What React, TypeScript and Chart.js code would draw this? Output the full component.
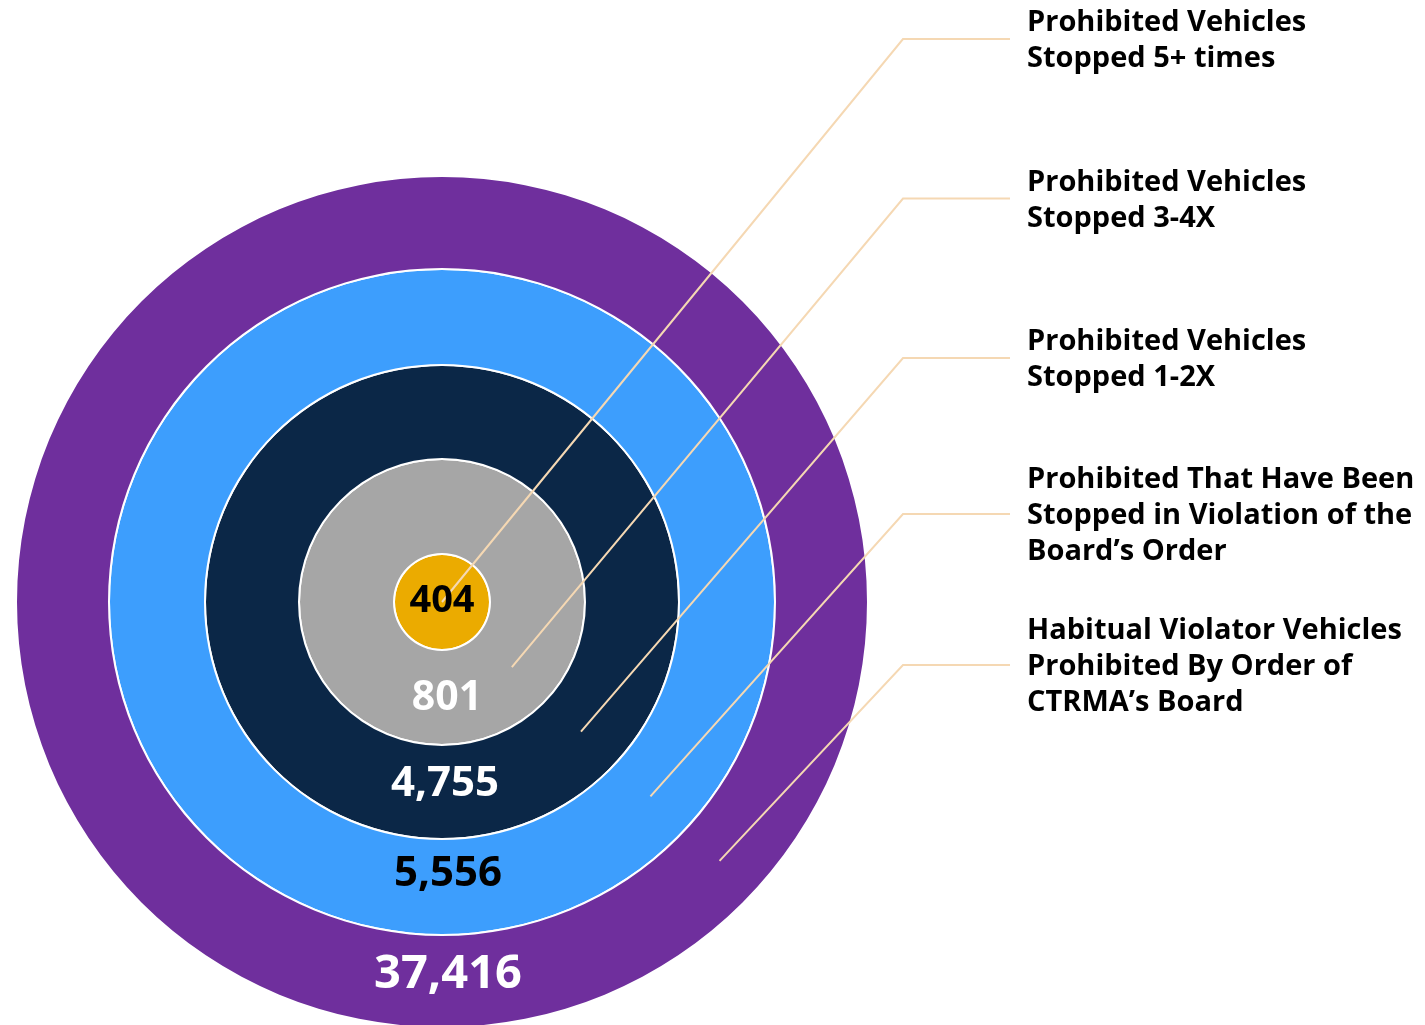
import React, { useEffect, useRef } from "react";
import { Chart, registerables } from "chart.js";

Chart.register(...registerables);

// ---- Data (outermost ring first) ----
const categories: string[][] = [
  ["Habitual Violator Vehicles", "Prohibited By Order of", "CTRMA\u2019s Board"],
  ["Prohibited That Have Been", "Stopped in Violation of the", "Board\u2019s Order"],
  ["Prohibited Vehicles", "Stopped 1-2X"],
  ["Prohibited Vehicles", "Stopped 3-4X"],
  ["Prohibited Vehicles", "Stopped 5+ times"],
];
const values: number[] = [37416, 5556, 4755, 801, 404];

// ---- Styles ----
const ringColors = ["#6f2f9d", "#3d9efd", "#0b2747", "#a6a6a6", "#ebab00"];
const valueTextColors = ["#ffffff", "#000000", "#ffffff", "#ffffff", "#000000"];
const valueFontSizes = [47, 42, 42, 41, 38];
const valueLabelFrac = [0.385, 0.33, 0.38, 0.48, -1]; // -1 => centred
const valueLabelDx = [6, 6, 3, 5, 0];
const ringWeights = [91, 94, 92, 93, 47];
const separatorWeight = 2;
const calloutCenterY = [665, 514, 358, 198.5, 39];
const LEADER = "#f5d8b3";
const FONT = '"Open Sans", "Noto Sans", sans-serif';

const CANVAS_W = 1425;
const CANVAS_H = 1040;

export default function App() {
  const ref = useRef<HTMLCanvasElement | null>(null);

  useEffect(() => {
    if (!ref.current) return;
    const datasets: any[] = [];
    const ringIndex: number[] = [];
    values.forEach((v, i) => {
      ringIndex.push(datasets.length);
      datasets.push({
        label: categories[i].join(" "),
        data: [v],
        backgroundColor: ringColors[i],
        borderWidth: 0,
        hoverOffset: 0,
        weight: ringWeights[i],
      });
      if (i < values.length - 1) {
        datasets.push({
          label: "",
          data: [1],
          backgroundColor: "#ffffff",
          borderWidth: 0,
          hoverOffset: 0,
          weight: separatorWeight,
        });
      }
    });

    const overlay = {
      id: "overlay",
      afterDatasetsDraw(chart: any) {
        const ctx = chart.ctx as CanvasRenderingContext2D;
        ctx.save();
        const arcs = ringIndex.map((di) => chart.getDatasetMeta(di).data[0] as any);
        const cx = arcs[0].x;
        const cy = arcs[0].y;

        // leader lines
        const ang = (43 * Math.PI) / 180;
        ctx.strokeStyle = LEADER;
        ctx.lineWidth = 2;
        ctx.lineJoin = "miter";
        arcs.forEach((a, i) => {
          const r = i === arcs.length - 1 ? 0 : (a.innerRadius + a.outerRadius) / 2;
          const ex = cx + r * Math.cos(ang);
          const ey = cy + r * Math.sin(ang);
          const ly = calloutCenterY[i];
          ctx.beginPath();
          ctx.moveTo(ex, ey);
          ctx.lineTo(cx + 461, ly);
          ctx.lineTo(cx + 568, ly);
          ctx.stroke();
        });

        // value labels
        ctx.textAlign = "center";
        ctx.textBaseline = "alphabetic";
        arcs.forEach((a, i) => {
          const size = valueFontSizes[i];
          ctx.font = `bold ${size}px ${FONT}`;
          ctx.fillStyle = valueTextColors[i];
          const f = valueLabelFrac[i];
          const yc = f < 0 ? cy - 4 : cy + a.innerRadius + f * (a.outerRadius - a.innerRadius);
          ctx.fillText(values[i].toLocaleString("en-US"), cx + valueLabelDx[i], yc + size * 0.357);
        });

        // callout texts
        ctx.textAlign = "left";
        ctx.fillStyle = "#000000";
        const fs = 29;
        ctx.font = `bold ${fs}px ${FONT}`;
        const lh = 36;
        categories.forEach((lines, i) => {
          const c = calloutCenterY[i];
          lines.forEach((t, k) => {
            const y = c + (k - (lines.length - 1) / 2) * lh;
            ctx.fillText(t, cx + 585, y + fs * 0.357);
          });
        });
        ctx.restore();
      },
    };

    const chart = new Chart(ref.current, {
      type: "pie",
      data: { labels: [""], datasets },
      options: {
        animation: false,
        responsive: false,
        events: [],
        layout: { padding: { left: 17, top: 177, right: 558, bottom: 13 } },
        plugins: { legend: { display: false }, tooltip: { enabled: false } },
      },
      plugins: [overlay],
    } as any);
    return () => chart.destroy();
  }, []);

  return (
    <div
      style={{
        position: "fixed",
        left: 0,
        top: 0,
        width: 1425,
        height: 1025,
        overflow: "hidden",
        background: "#ffffff",
      }}
    >
      <canvas
        ref={ref}
        width={CANVAS_W}
        height={CANVAS_H}
        style={{ display: "block", width: CANVAS_W, height: CANVAS_H }}
      />
    </div>
  );
}
